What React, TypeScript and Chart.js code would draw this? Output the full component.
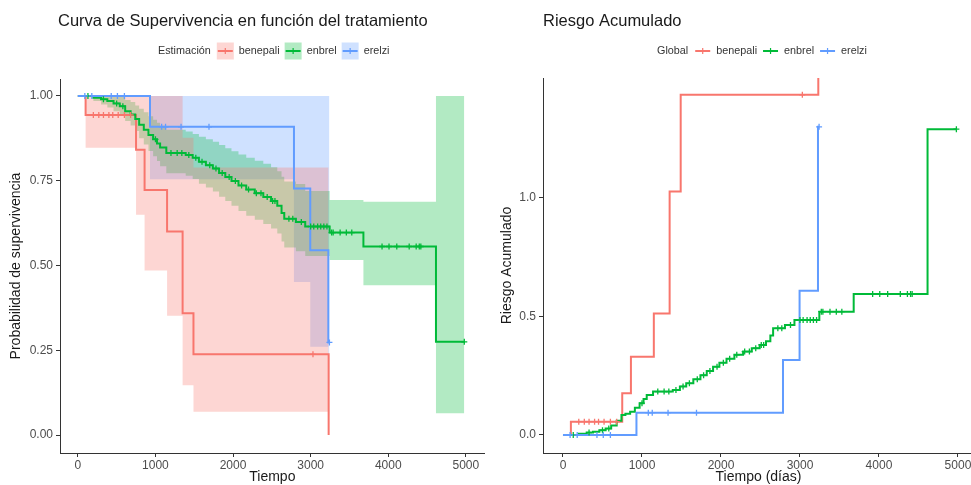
import React, { useEffect, useRef } from "react";
import { Chart, registerables } from "chart.js";

Chart.register(...registerables);

const FONT = '"Liberation Sans", Arial, Helvetica, sans-serif';

// ---------- series ----------
const SERIES = ["benepali", "enbrel", "erelzi"];
const COLORS = ["#F8766D", "#00BA38", "#619CFF"];
const BAND_ALPHA = 0.3;

// ---------- ticks ----------
const X_TICKS = [0, 1000, 2000, 3000, 4000, 5000];
const X_TICK_LABELS = ["0", "1000", "2000", "3000", "4000", "5000"];
const SURV_TICKS = [0, 0.25, 0.5, 0.75, 1];
const SURV_TICK_LABELS = ["0.00", "0.25", "0.50", "0.75", "1.00"];
const HAZ_TICKS = [0, 0.5, 1];
const HAZ_TICK_LABELS = ["0.0", "0.5", "1.0"];

// ---------- benepali ----------
const BEN_T = [0, 100, 750, 860, 1150, 1350, 1490, 3232];
const BEN_S = [1, 0.944, 0.841, 0.723, 0.6, 0.359, 0.238, 0];
const BEN_LO = [1, 0.847, 0.65, 0.485, 0.352, 0.147, 0.069, 0.069];
const BEN_HI = [1, 1, 1, 1, 1, 0.877, 0.789, 0.789];
const BEN_H = [0, 0.056, 0.176, 0.33, 0.513, 1.027, 1.435, 3]; // last step = Inf (off the panel)
const BEN_CENS = [200, 270, 330, 400, 450, 520, 600, 680, 3030];

// ---------- enbrel ----------
const ENB_T = [0, 200, 300, 380, 460, 540, 610, 680, 740, 790, 850, 910, 970, 1020, 1060, 1140, 1390, 1480, 1560, 1650, 1740, 1820, 1900, 1980, 2070, 2170, 2280, 2390, 2490, 2570, 2625, 2660, 2810, 2930, 3245, 3680, 4615, 4980];
const ENB_S = [1, 0.995, 0.99, 0.985, 0.978, 0.97, 0.955, 0.945, 0.932, 0.915, 0.9, 0.885, 0.872, 0.86, 0.848, 0.832, 0.826, 0.818, 0.806, 0.796, 0.786, 0.773, 0.761, 0.749, 0.736, 0.724, 0.713, 0.702, 0.69, 0.676, 0.655, 0.638, 0.628, 0.615, 0.597, 0.556, 0.275, 0.275];
const ENB_LO = [1, 0.985, 0.975, 0.966, 0.955, 0.944, 0.926, 0.913, 0.897, 0.875, 0.857, 0.838, 0.822, 0.808, 0.793, 0.772, 0.765, 0.755, 0.741, 0.73, 0.718, 0.703, 0.69, 0.676, 0.661, 0.647, 0.635, 0.622, 0.609, 0.594, 0.571, 0.553, 0.542, 0.528, 0.516, 0.442, 0.064, 0.064];
const ENB_HI = [1, 1, 1, 1, 1, 0.997, 0.988, 0.982, 0.972, 0.962, 0.952, 0.94, 0.93, 0.921, 0.912, 0.9, 0.895, 0.888, 0.88, 0.872, 0.865, 0.855, 0.846, 0.837, 0.827, 0.818, 0.809, 0.8, 0.79, 0.778, 0.762, 0.748, 0.74, 0.72, 0.693, 0.688, 1, 1];
const ENB_H = [0, 0.005, 0.01, 0.014, 0.02, 0.027, 0.04, 0.06, 0.084, 0.09, 0.098, 0.115, 0.134, 0.152, 0.169, 0.183, 0.19, 0.205, 0.218, 0.235, 0.252, 0.27, 0.288, 0.305, 0.322, 0.338, 0.352, 0.366, 0.38, 0.395, 0.42, 0.45, 0.464, 0.485, 0.52, 0.595, 1.29, 1.29];
const ENB_CENS = [130, 330, 500, 580, 1000, 1200, 1280, 1340, 1430, 1520, 1600, 1700, 1780, 1860, 1950, 2030, 2110, 2200, 2300, 2360, 2440, 2510, 2540, 2720, 2770, 2880, 3000, 3040, 3090, 3130, 3170, 3210, 3270, 3290, 3380, 3460, 3530, 3920, 4010, 4110, 4270, 4360, 4400, 4420, 4980];

// ---------- erelzi ----------
const ERE_T = [0, 930, 2785, 2995, 3228, 3242];
const ERE_S = [1, 0.909, 0.727, 0.545, 0.273, 0.273];
const ERE_LO = [1, 0.754, 0.451, 0.26, 0.057, 0.057];
const ERE_HI = [1, 1, 1, 1, 1, 1];
const ERE_H = [0, 0.094, 0.316, 0.609, 1.3, 1.3];
const ERE_CENS = [90, 180, 430, 510, 600, 1080, 1130, 1330, 1690, 3242];

// ---------- helpers ----------
function rgba(hex: string, a: number) {
  const n = parseInt(hex.slice(1), 16);
  return `rgba(${(n >> 16) & 255},${(n >> 8) & 255},${n & 255},${a})`;
}
function pts(t: number[], v: number[]) {
  return t.map((x, i) => ({ x, y: v[i] }));
}
function levelAt(t: number[], v: number[], x: number) {
  let val = v[0];
  for (let i = 0; i < t.length; i++) if (t[i] <= x) val = v[i];
  return val;
}
function marks(t: number[], v: number[], cens: number[]) {
  return cens.map((c) => ({ x: c, y: levelAt(t, v, c) }));
}

const headerPlugin = {
  id: "ggHeader",
  afterDraw(chart: any, _args: any, opts: any) {
    const ctx = chart.ctx;
    ctx.save();
    ctx.textBaseline = "middle";
    ctx.textAlign = "left";
    ctx.fillStyle = "#1a1a1a";
    ctx.font = `16.5px ${FONT}`;
    ctx.fillText(opts.title, opts.titleX, opts.titleY);
    ctx.font = `10.8px ${FONT}`;
    ctx.fillStyle = "#333333";
    let x = opts.legendX;
    const y = opts.legendY;
    ctx.fillText(opts.legendTitle, x, y);
    x += ctx.measureText(opts.legendTitle).width + 6;
    SERIES.forEach((name: string, i: number) => {
      const c = COLORS[i];
      if (opts.filledKeys) {
        ctx.fillStyle = rgba(c, BAND_ALPHA);
        ctx.fillRect(x, y - 8.5, 17, 17);
      }
      ctx.strokeStyle = c;
      ctx.lineWidth = 2;
      ctx.beginPath();
      ctx.moveTo(x + 1, y);
      ctx.lineTo(x + 16, y);
      ctx.stroke();
      ctx.lineWidth = 1.2;
      ctx.beginPath();
      ctx.moveTo(x + 8.5, y - 3);
      ctx.lineTo(x + 8.5, y + 3);
      ctx.stroke();
      x += 17 + 5;
      ctx.fillStyle = "#333333";
      ctx.fillText(name, x, y);
      x += ctx.measureText(name).width + 5;
    });
    ctx.restore();
  },
};

function xScale(min: number, max: number, title: string) {
  return {
    type: "linear",
    min,
    max,
    afterBuildTicks: (s: any) => {
      s.ticks = X_TICKS.map((v) => ({ value: v }));
    },
    afterFit: (s: any) => {
      s.height = 47;
    },
    ticks: {
      autoSkip: false,
      maxRotation: 0,
      color: "#4D4D4D",
      font: { family: FONT, size: 12 },
      padding: 1,
      callback: (_v: any, i: number) => X_TICK_LABELS[i],
    },
    grid: { display: true, drawOnChartArea: false, drawTicks: true, tickLength: 4, color: "#333333", lineWidth: 1 },
    border: { display: true, color: "#333333", width: 1 },
    title: { display: true, text: title, color: "#1a1a1a", font: { family: FONT, size: 14 }, padding: { top: 0, bottom: 14 } },
  };
}

function yScale(min: number, max: number, ticks: number[], labels: string[], title: string, width: number, tpad: number) {
  return {
    type: "linear",
    position: "left",
    min,
    max,
    afterBuildTicks: (s: any) => {
      s.ticks = ticks.map((v) => ({ value: v }));
    },
    afterFit: (s: any) => {
      s.width = width;
    },
    ticks: {
      autoSkip: false,
      color: "#4D4D4D",
      font: { family: FONT, size: 12 },
      padding: 3,
      callback: (_v: any, i: number) => labels[i],
    },
    grid: { display: true, drawOnChartArea: false, drawTicks: true, tickLength: 4, color: "#333333", lineWidth: 1 },
    border: { display: true, color: "#333333", width: 1 },
    title: { display: true, text: title, color: "#1a1a1a", font: { family: FONT, size: 14 }, padding: { top: tpad, bottom: 0 } },
  };
}

function lineDs(data: any[], color: string, order: number) {
  return { data, borderColor: color, borderWidth: 2, pointRadius: 0, stepped: "before", fill: false, order };
}
function markDs(data: any[], color: string, order: number) {
  return {
    data,
    showLine: false,
    pointStyle: "cross",
    pointRadius: 3,
    pointBorderWidth: 1.3,
    pointBorderColor: color,
    borderColor: color,
    pointBackgroundColor: color,
    fill: false,
    order,
  };
}
function bandDs(t: number[], lo: number[], hi: number[], color: string, order: number) {
  return [
    { data: pts(t, hi), borderColor: "transparent", borderWidth: 0, pointRadius: 0, stepped: "before", fill: "+1", backgroundColor: rgba(color, BAND_ALPHA), order },
    { data: pts(t, lo), borderColor: "transparent", borderWidth: 0, pointRadius: 0, stepped: "before", fill: false, order },
  ];
}

function baseOptions(padding: any, scales: any, header: any) {
  return {
    responsive: false,
    animation: false,
    events: [],
    layout: { padding },
    scales,
    plugins: {
      legend: { display: false },
      tooltip: { enabled: false },
      title: { display: false },
      filler: { drawTime: "beforeDatasetsDraw" },
      ggHeader: header,
    },
  };
}

export default function App() {
  const leftRef = useRef<HTMLCanvasElement | null>(null);
  const rightRef = useRef<HTMLCanvasElement | null>(null);

  useEffect(() => {
    const left = new Chart(leftRef.current as HTMLCanvasElement, {
      type: "line",
      data: {
        datasets: [
          ...bandDs(BEN_T, BEN_LO, BEN_HI, COLORS[0], 100),
          ...bandDs(ENB_T, ENB_LO, ENB_HI, COLORS[1], 100),
          ...bandDs(ERE_T, ERE_LO, ERE_HI, COLORS[2], 100),
          lineDs(pts(BEN_T, BEN_S), COLORS[0], 30),
          lineDs(pts(ENB_T, ENB_S), COLORS[1], 20),
          lineDs(pts(ERE_T, ERE_S), COLORS[2], 10),
          markDs(marks(BEN_T, BEN_S, BEN_CENS), COLORS[0], 6),
          markDs(marks(ENB_T, ENB_S, ENB_CENS), COLORS[1], 5),
          markDs(marks(ERE_T, ERE_S, ERE_CENS), COLORS[2], 4),
        ] as any,
      },
      options: baseOptions(
        { top: 79, left: 0, right: 2, bottom: 0 },
        {
          x: xScale(-230, 5243, "Tiempo"),
          y: yScale(-0.053, 1.05, SURV_TICKS, SURV_TICK_LABELS, "Probabilidad de supervivencia", 60, 8),
        },
        {
          title: "Curva de Supervivencia en función del tratamiento",
          titleX: 58,
          titleY: 21,
          legendTitle: "Estimación",
          legendX: 158,
          legendY: 51,
          filledKeys: true,
        }
      ) as any,
      plugins: [headerPlugin as any],
    });

    const right = new Chart(rightRef.current as HTMLCanvasElement, {
      type: "line",
      data: {
        datasets: [
          lineDs(pts(BEN_T, BEN_H), COLORS[0], 30),
          lineDs(pts(ENB_T, ENB_H), COLORS[1], 20),
          lineDs(pts(ERE_T, ERE_H), COLORS[2], 10),
          markDs(marks(BEN_T, BEN_H, BEN_CENS), COLORS[0], 6),
          markDs(marks(ENB_T, ENB_H, ENB_CENS), COLORS[1], 5),
          markDs(marks(ERE_T, ERE_H, ERE_CENS), COLORS[2], 4),
        ] as any,
      },
      options: baseOptions(
        { top: 78, left: 0, right: 6, bottom: 0 },
        {
          x: xScale(-253, 5203, "Tiempo (días)"),
          y: yScale(-0.076, 1.506, HAZ_TICKS, HAZ_TICK_LABELS, "Riesgo Acumulado", 53, 9),
        },
        {
          title: "Riesgo Acumulado",
          titleX: 53,
          titleY: 21,
          legendTitle: "Global",
          legendX: 167,
          legendY: 51,
          filledKeys: false,
        }
      ) as any,
      plugins: [headerPlugin as any],
    });

    return () => {
      left.destroy();
      right.destroy();
    };
  }, []);

  return (
    <div style={{ position: "fixed", left: 0, top: 0, width: 971, height: 485, overflow: "hidden", background: "#ffffff" }}>
      <canvas ref={leftRef} width={490} height={500} style={{ position: "absolute", left: 0, top: 0, width: 490, height: 500 }} />
      <canvas ref={rightRef} width={490} height={500} style={{ position: "absolute", left: 490, top: 0, width: 490, height: 500 }} />
    </div>
  );
}
